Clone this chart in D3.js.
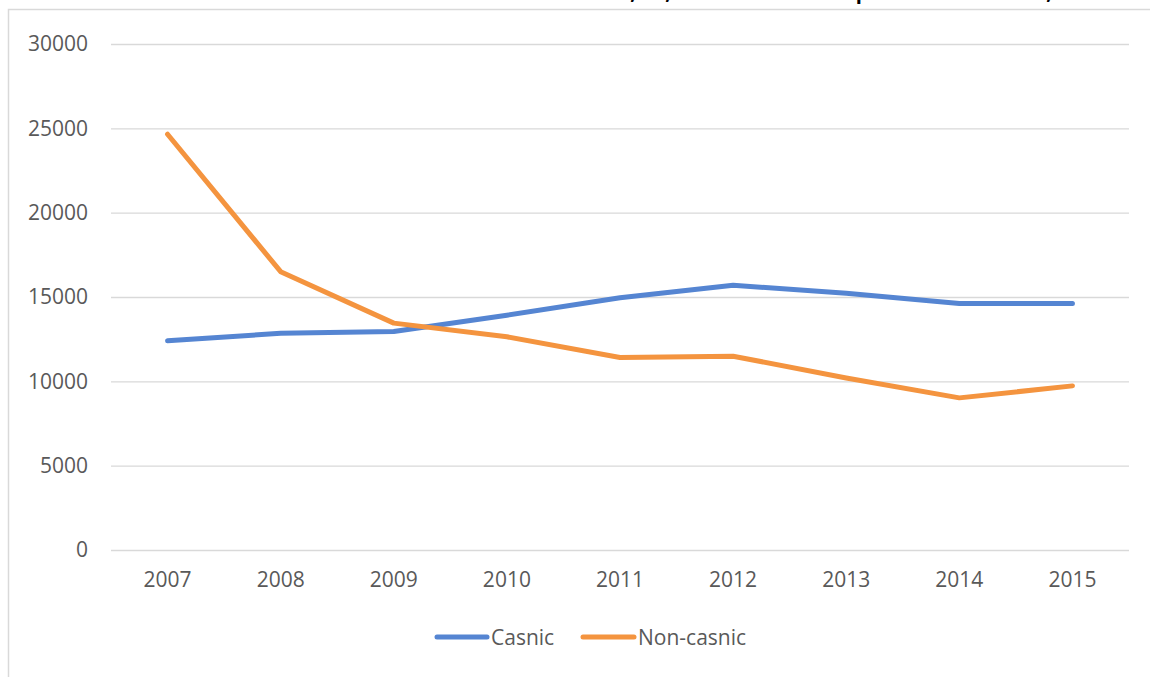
<!DOCTYPE html>
<html><head><meta charset="utf-8">
<script src="https://d3js.org/d3.v7.min.js"></script>
<style>
body{margin:0;background:#fff;}
svg{display:block;}
text{font-family:"Open Sans","Liberation Sans",sans-serif;}
</style></head>
<body>
<svg id="c" width="1150" height="677"></svg>
<script>
const years = ["2007","2008","2009","2010","2011","2012","2013","2014","2015"];
const casnic = [12400, 12850, 12950, 13920, 14960, 15700, 15220, 14620, 14620];
const nonCasnic = [24650, 16500, 13450, 12640, 11410, 11490, 10200, 9020, 9730];
const yTicks = [0, 5000, 10000, 15000, 20000, 25000, 30000];
const seriesNames = ["Casnic", "Non-casnic"];
const colors = ["#5585D2", "#F4943F"];

const svg = d3.select("#c");
// outer chart border (cut off on right/bottom)
svg.append("rect").attr("x",8.5).attr("y",9.5).attr("width",1200).attr("height",700)
  .attr("fill","none").attr("stroke","#d9d9d9").attr("stroke-width",1.5);

// cut-off title (only descenders visible in the reference)
[[633,","],[668,","],[1049,","],[862,"p"]].forEach(([x,t])=>{
  svg.append("text").attr("x",x).attr("y",-1).attr("font-size",20).attr("font-weight","bold")
    .attr("fill","#000").attr("text-anchor","middle").text(t);
});

const x = d3.scaleBand().domain(years).range([111,1129]);
const y = d3.scaleLinear().domain([0,30000]).range([550,44]);

// gridlines
const grid = svg.append("g").attr("transform","translate(111,0)")
  .call(d3.axisLeft(y).tickValues(yTicks).tickSize(-(1129-111)).tickFormat(""));
grid.select(".domain").remove();
grid.selectAll("line").attr("stroke","#d9d9d9").attr("stroke-width",1.3);

// y labels
const ya = svg.append("g").attr("transform","translate(88,0)")
  .call(d3.axisLeft(y).tickValues(yTicks).tickSize(0).tickPadding(0).tickFormat(d3.format("d")));
ya.select(".domain").remove();
ya.selectAll("text").attr("font-size",21).attr("fill","#595959")
  .style("font-family","'Open Sans','Liberation Sans',sans-serif");

// x labels
const xa = svg.append("g").attr("transform","translate(0,550)")
  .call(d3.axisBottom(x).tickSize(0).tickPadding(22));
xa.select(".domain").remove();
xa.selectAll("text").attr("font-size",21).attr("fill","#595959")
  .style("font-family","'Open Sans','Liberation Sans',sans-serif");

const line = d3.line().x((d,i)=>x(years[i])+x.bandwidth()/2).y(d=>y(d));
[casnic, nonCasnic].forEach((s,k)=>{
  svg.append("path").datum(s).attr("d",line).attr("fill","none")
    .attr("stroke",colors[k]).attr("stroke-width",5)
    .attr("stroke-linejoin","round").attr("stroke-linecap","round");
});

// legend
const leg = [{x1:437,x2:487,tx:491},{x1:583,x2:634,tx:638}];
seriesNames.forEach((n,k)=>{
  svg.append("line").attr("x1",leg[k].x1).attr("x2",leg[k].x2).attr("y1",637).attr("y2",637)
    .attr("stroke",colors[k]).attr("stroke-width",5).attr("stroke-linecap","round");
  svg.append("text").attr("x",leg[k].tx).attr("y",645).attr("font-size",21)
    .attr("fill","#595959").text(n);
});
</script>
</body></html>
